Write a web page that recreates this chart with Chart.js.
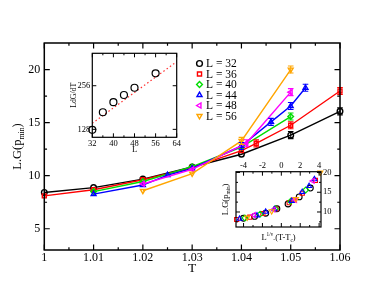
<!DOCTYPE html>
<html><head><meta charset="utf-8">
<script src="https://cdn.jsdelivr.net/npm/chart.js@4.4.0/dist/chart.umd.min.js"></script>
<style>
html,body{margin:0;padding:0;background:#fff;width:382px;height:295px;overflow:hidden}
#wrap{position:relative;width:382px;height:295px}
canvas{position:absolute}
</style></head><body>
<div id="wrap">
<canvas id="main" style="left:0;top:0" width="382" height="295"></canvas>
<canvas id="in1" style="left:55px;top:45px" width="130" height="120"></canvas>
<canvas id="in2" style="left:205px;top:155px" width="135" height="95"></canvas>
</div>
<script>
// ---------- data ----------
const sizesL = [32, 36, 40, 44, 48, 56];
const T32 = [1, 1.01, 1.02, 1.03, 1.04, 1.05, 1.06];
const G32 = [8.42, 8.88, 9.68, 10.82, 12.02, 13.82, 16.06];
const T36 = [1, 1.01, 1.02, 1.03, 1.04, 1.043, 1.05, 1.06];
const G36 = [8.10, 8.68, 9.62, 10.76, 12.36, 13.04, 14.75, 17.98];
const T40 = [1.01, 1.02, 1.03, 1.04, 1.05];
const G40 = [8.50, 9.45, 10.85, 12.70, 15.57];
const T44 = [1.01, 1.02, 1.025, 1.03, 1.04, 1.046, 1.05, 1.053];
const G44 = [8.26, 9.12, 10.06, 10.68, 12.80, 15.07, 16.56, 18.28];
const T48 = [1.02, 1.03, 1.041, 1.05];
const G48 = [9.22, 10.60, 13.05, 17.87];
const T56 = [1.02, 1.03, 1.04, 1.05];
const G56 = [8.58, 10.20, 13.28, 20.00];
// error bars (half-widths)
const E32 = [0, 0, 0, 0, 0, 0.12, 0.15];
const E36 = [0, 0, 0, 0, 0, 0.1, 0.12, 0.15];
const E40 = [0, 0, 0, 0, 0.1, 0.15];
const E44 = [0, 0, 0, 0, 0.12, 0.22, 0.25, 0.3];
const E48 = [0, 0, 0.12, 0.25];
const E56 = [0, 0, 0.2, 0.25];
// scaling-collapse inset: x = L^(1/nu)(T-Tc), y = L.G(p_min)
const X32 = [-4.01, -2.83, -1.65, -0.47, 0.71, 1.89, 3.07];
const X36 = [-4.73, -3.34, -1.95, -0.56, 0.83, 1.25, 2.22, 3.61];
const X40 = [-3.86, -2.25, -0.64, 0.97, 2.58];
const X44 = [-4.42, -2.58, -1.66, -0.74, 1.10, 2.21, 2.94, 3.50];
const X48 = [-2.91, -0.83, 1.46, 3.33];
const X56 = [-3.61, -1.03, 1.55, 4.13];
// slope inset: L dG/dT vs L
const slopeL = [32, 36, 40, 44, 48, 56];
const slopeV = [127, 168, 197, 221, 248, 312];
const fitL = [32, 64];
const fitV = [141, 375];
// tick labels
const mainXTickLabels = ['1', '1.01', '1.02', '1.03', '1.04', '1.05', '1.06'];
const mainYTickLabels = ['5', '10', '15', '20'];
const in1XTickLabels = ['32', '40', '48', '56', '64'];
const in1YTickLabels = ['128', '256'];
const in2XTickLabels = ['-4', '-2', '0', '2', '4'];
const in2YTickLabels = ['10', '15', '20'];

// ---------- styles ----------
const SERIF = '"Liberation Serif","DejaVu Serif",serif';
const colors = ['#000000', '#ff0000', '#00dd00', '#0000ff', '#ff00ff', '#ffa500'];
const shapes = [['circle', 0], ['rect', 0], ['rectRot', 0], ['triangle', 0], ['triangle', -90], ['triangle', 180]];
const mainT = [T32, T36, T40, T44, T48, T56];
const mainG = [G32, G36, G40, G44, G48, G56];
const mainE = [E32, E36, E40, E44, E48, E56];
const scaledX = [X32, X36, X40, X44, X48, X56];

function pts(xs, ys) { return xs.map((x, i) => ({x: x, y: ys[i]})); }
function num(a) { return a.map(s => parseFloat(s)); }

function drawRich(ctx, parts, x, y, size, rot) {
  ctx.save();
  ctx.translate(x, y);
  ctx.rotate(rot || 0);
  ctx.fillStyle = '#000';
  ctx.textBaseline = 'middle';
  ctx.textAlign = 'left';
  const fs = p => (p[1] ? size * 0.62 : size);
  const w = parts.map(p => { ctx.font = fs(p) + 'px ' + SERIF; return ctx.measureText(p[0]).width; });
  let cx = -w.reduce((a, b) => a + b, 0) / 2;
  parts.forEach((p, i) => {
    ctx.font = fs(p) + 'px ' + SERIF;
    const dy = p[1] === 1 ? size * 0.32 : (p[1] === 2 ? -size * 0.38 : 0);
    ctx.fillText(p[0], cx, dy);
    cx += w[i];
  });
  ctx.restore();
}

// frame + inward ticks on all four sides
const framePlugin = {
  id: 'frame',
  beforeDatasetsDraw(chart, args, o) {
    if (!o.fill) return;
    const a = chart.chartArea, ctx = chart.ctx;
    ctx.save(); ctx.fillStyle = '#fff';
    ctx.fillRect(a.left, a.top, a.right - a.left, a.bottom - a.top);
    ctx.restore();
  },
  afterDraw(chart, args, o) {
    const a = chart.chartArea, ctx = chart.ctx;
    const sx = chart.scales.x, sy = chart.scales.y;
    ctx.save();
    ctx.strokeStyle = '#000';
    ctx.lineWidth = o.lw;
    ctx.strokeRect(a.left, a.top, a.right - a.left, a.bottom - a.top);
    ctx.lineWidth = o.tw;
    ctx.beginPath();
    const tx = (v, len) => { const p = sx.getPixelForValue(v); ctx.moveTo(p, a.bottom); ctx.lineTo(p, a.bottom - len); ctx.moveTo(p, a.top); ctx.lineTo(p, a.top + len); };
    const ty = (v, len) => { const p = sy.getPixelForValue(v); ctx.moveTo(a.left, p); ctx.lineTo(a.left + len, p); ctx.moveTo(a.right, p); ctx.lineTo(a.right - len, p); };
    o.xMajor.forEach(v => tx(v, o.len)); (o.xMinor || []).forEach(v => tx(v, o.len / 2));
    o.yMajor.forEach(v => ty(v, o.len)); (o.yMinor || []).forEach(v => ty(v, o.len / 2));
    ctx.stroke();
    ctx.restore();
    if (o.titles) o.titles(chart, ctx);
  }
};

// vertical error bars with caps, drawn through the chart's scales
const errorPlugin = {
  id: 'errbars',
  afterDatasetsDraw(chart) {
    const ctx = chart.ctx, sx = chart.scales.x, sy = chart.scales.y;
    ctx.save();
    ctx.lineWidth = 1.1;
    chart.data.datasets.forEach((ds, i) => {
      if (!ds.errors) return;
      ctx.strokeStyle = ds.borderColor;
      ctx.beginPath();
      ds.data.forEach((p, j) => {
        const e = ds.errors[j];
        if (!e) return;
        const x = sx.getPixelForValue(p.x);
        const y1 = sy.getPixelForValue(p.y - e), y2 = sy.getPixelForValue(p.y + e);
        const yc = sy.getPixelForValue(p.y);
        const hi = Math.min(y2, yc - 3.5), lo = Math.max(y1, yc + 3.5);
        ctx.moveTo(x, hi); ctx.lineTo(x, lo);
        ctx.moveTo(x - 2.8, hi); ctx.lineTo(x + 2.8, hi);
        ctx.moveTo(x - 2.8, lo); ctx.lineTo(x + 2.8, lo);
      });
      ctx.stroke();
    });
    ctx.restore();
  }
};

function tickCfg(labels, size, pad) {
  const vals = num(labels);
  return {
    afterBuildTicks: s => { s.ticks = vals.map(v => ({value: v})); },
    ticks: {
      font: {family: SERIF, size: size}, color: '#000', padding: pad, maxRotation: 0, autoSkip: false,
      callback: (v) => { const i = vals.findIndex(t => Math.abs(t - v) < 1e-9); return i >= 0 ? labels[i] : ''; }
    },
    grid: {display: false, drawTicks: false},
    border: {display: false}
  };
}

// ---------- main chart ----------
const mainDatasets = sizesL.map((L, i) => ({
  label: 'L = ' + L,
  data: pts(mainT[i], mainG[i]),
  errors: mainE[i],
  borderColor: colors[i],
  backgroundColor: 'rgba(0,0,0,0)',
  borderWidth: 1.4,
  pointStyle: shapes[i][0],
  rotation: shapes[i][1],
  pointRadius: 2.8,
  pointBorderWidth: 1.4,
  pointBorderColor: colors[i],
  pointBackgroundColor: 'rgba(0,0,0,0)',
  clip: false,
  order: 5 - i,
  tension: 0
}));

const legendPlugin = {
  id: 'legendInside',
  afterDraw(chart) {
    const ctx = chart.ctx;
    ctx.save();
    sizesL.forEach((L, i) => {
      const y = 63.5 + i * 10.5;
      ctx.strokeStyle = colors[i];
      ctx.fillStyle = 'rgba(0,0,0,0)';
      Chart.helpers.drawPoint(ctx, {pointStyle: shapes[i][0], rotation: shapes[i][1], radius: 2.9, borderWidth: 1.3}, 199.5, y);
      ctx.fillStyle = '#000';
      ctx.font = '11.5px ' + SERIF;
      ctx.textBaseline = 'middle';
      ctx.textAlign = 'left';
      ctx.fillText('L = ' + L, 206, y + 0.5);
    });
    ctx.restore();
  }
};

const mxt = tickCfg(mainXTickLabels, 12, 1);
const myt = tickCfg(mainYTickLabels, 12, 4);
new Chart(document.getElementById('main'), {
  type: 'line',
  data: {datasets: mainDatasets},
  plugins: [framePlugin, errorPlugin, legendPlugin],
  options: {
    responsive: false, animation: false, devicePixelRatio: 1,
    layout: {padding: {left: 0, right: 42, top: 43, bottom: 0}},
    plugins: {
      legend: {display: false}, tooltip: {enabled: false},
      frame: {
        lw: 1.5, tw: 1.2, len: 5.5,
        xMajor: num(mainXTickLabels), xMinor: [1.005, 1.015, 1.025, 1.035, 1.045, 1.055],
        yMajor: num(mainYTickLabels), yMinor: [7.5, 12.5, 17.5],
        titles: (chart, ctx) => {
          const a = chart.chartArea;
          drawRich(ctx, [['T', 0]], (a.left + a.right) / 2, 268, 13.5, 0);
          drawRich(ctx, [['L.G(p', 0], ['min', 1], [')', 0]], 18, (a.top + a.bottom) / 2, 12.5, -Math.PI / 2);
        }
      }
    },
    scales: {
      x: Object.assign({type: 'linear', min: 1, max: 1.06, afterFit: s => { s.height = 45; }}, mxt),
      y: Object.assign({type: 'linear', min: 3, max: 22.5, afterFit: s => { s.width = 44.3; }}, myt)
    }
  }
});

// ---------- inset 1: L dG/dT vs L ----------
const i1x = tickCfg(in1XTickLabels, 8.5, 1);
const i1y = tickCfg(in1YTickLabels, 8.5, 2);
new Chart(document.getElementById('in1'), {
  type: 'line',
  data: {datasets: [
    {data: pts(fitL, fitV), borderColor: '#ff3030', borderWidth: 1.2, borderDash: [1.5, 2.5], pointRadius: 0, order: 1},
    {data: pts(slopeL, slopeV), showLine: false, borderColor: '#000', pointStyle: 'circle', pointRadius: 3.5,
     pointBorderWidth: 1.2, pointBackgroundColor: 'rgba(0,0,0,0)', pointBorderColor: '#000', clip: false, order: 0}
  ]},
  plugins: [framePlugin],
  options: {
    responsive: false, animation: false, devicePixelRatio: 1,
    layout: {padding: {left: 0, right: 8.3, top: 8.3, bottom: 0}},
    plugins: {
      legend: {display: false}, tooltip: {enabled: false},
      frame: {
        fill: true, lw: 1.2, tw: 1, len: 4,
        xMajor: num(in1XTickLabels), xMinor: [36, 44, 52, 60],
        yMajor: num(in1YTickLabels), yMinor: [],
        titles: (chart, ctx) => {
          const a = chart.chartArea;
          drawRich(ctx, [['L', 0]], (a.left + a.right) / 2, 105, 8.5, 0);
          drawRich(ctx, [['LdG/dT', 0]], 18.5, (a.top + a.bottom) / 2, 7.8, -Math.PI / 2);
        }
      }
    },
    scales: {
      x: Object.assign({type: 'linear', min: 32, max: 64, afterFit: s => { s.height = 27.7; }}, i1x),
      y: Object.assign({type: 'logarithmic', min: 112.8, max: 428.6, afterFit: s => { s.width = 37.3; }}, i1y)
    }
  }
});

// ---------- inset 2: scaling collapse ----------
const in2Datasets = sizesL.map((L, i) => ({
  data: pts(scaledX[i], mainG[i]),
  showLine: false,
  pointStyle: shapes[i][0],
  rotation: shapes[i][1],
  pointRadius: 2.9,
  pointBorderWidth: 1.1,
  pointBorderColor: colors[i],
  pointBackgroundColor: 'rgba(0,0,0,0)',
  borderColor: colors[i],
  clip: false,
  order: 5 - i
}));
const i2x = tickCfg(in2XTickLabels, 8.5, 1);
const i2y = tickCfg(in2YTickLabels, 8.5, 2);
new Chart(document.getElementById('in2'), {
  type: 'line',
  data: {datasets: in2Datasets},
  plugins: [framePlugin],
  options: {
    responsive: false, animation: false, devicePixelRatio: 1,
    layout: {padding: {left: 31, right: 0, top: 0, bottom: 23}},
    plugins: {
      legend: {display: false}, tooltip: {enabled: false},
      frame: {
        fill: true, lw: 1.2, tw: 1, len: 4,
        xMajor: num(in2XTickLabels), xMinor: [-3, -1, 1, 3],
        yMajor: num(in2YTickLabels), yMinor: [7.5, 12.5, 17.5],
        titles: (chart, ctx) => {
          const a = chart.chartArea;
          drawRich(ctx, [['L', 0], ['1/\u03bd', 2], ['.(T-T', 0], ['c', 1], [')', 0]], (a.left + a.right) / 2, 82.5, 8.5, 0);
          drawRich(ctx, [['L.G(p', 0], ['min', 1], [')', 0]], 20.5, (a.top + a.bottom) / 2, 8.5, -Math.PI / 2);
        }
      }
    },
    scales: {
      x: Object.assign({type: 'linear', position: 'top', min: -4.8, max: 4.2, afterFit: s => { s.height = 16.7; }}, i2x),
      y: Object.assign({type: 'linear', position: 'right', min: 6.2, max: 20.2, afterFit: s => { s.width = 19; }}, i2y)
    }
  }
});
</script>
</body></html>
